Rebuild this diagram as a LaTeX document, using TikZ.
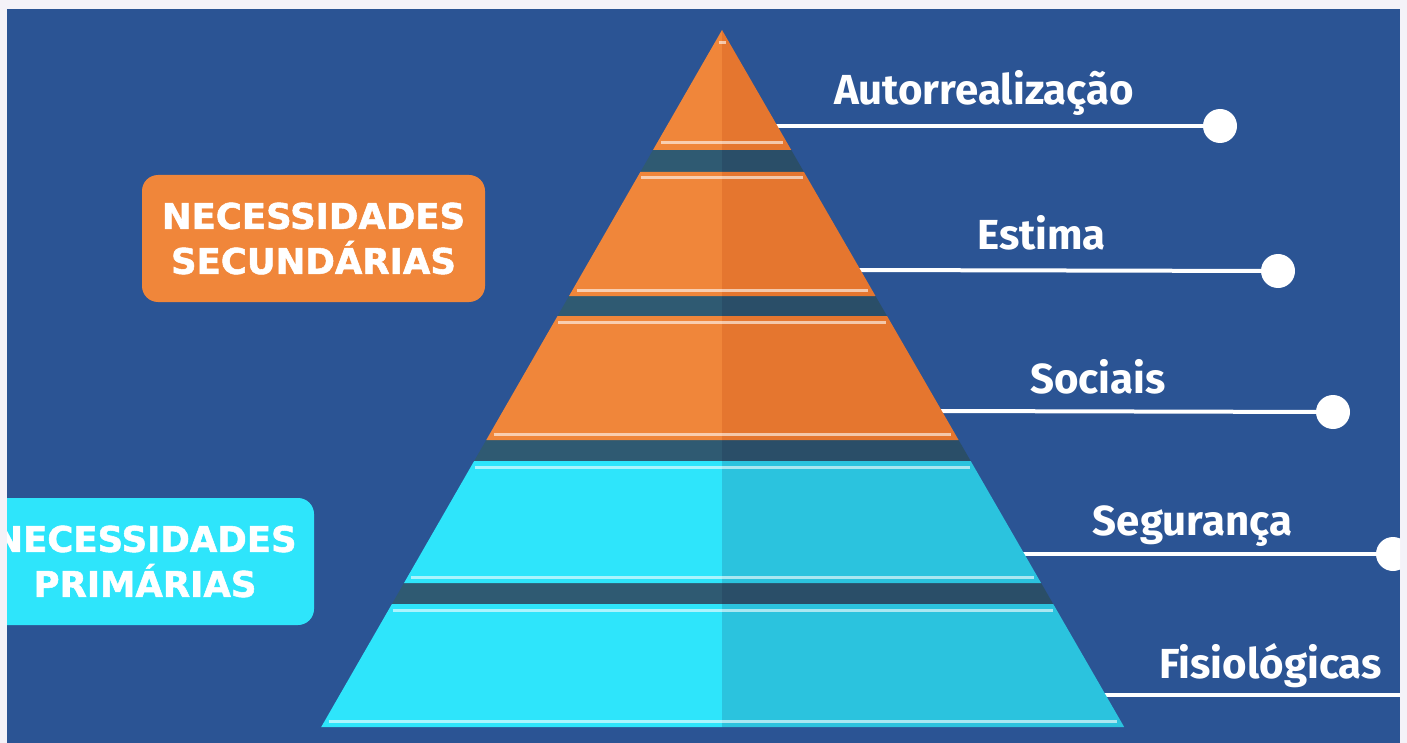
\documentclass[tikz,border=0pt]{standalone}
\usepackage{fontspec}
\setmainfont{Fira Sans}
\newfontfamily\tagfont{DejaVu Sans}[BoldFeatures={FakeBold=1.5}]
\definecolor{page}{HTML}{F4F2F8}
\definecolor{panel}{HTML}{2B5494}
\definecolor{orL}{HTML}{F0863A}
\definecolor{orR}{HTML}{E5762F}
\definecolor{cyL}{HTML}{2EE5FB}
\definecolor{cyR}{HTML}{2BC3DE}
\definecolor{shL}{HTML}{2F5A72}
\definecolor{shR}{HTML}{2A4E68}
% one slice of the pyramid: top, bottom, left colour, right colour
\newcommand{\slab}[4]{%
  \pgfmathsetmacro{\xa}{722-0.575*(#1-30)}
  \pgfmathsetmacro{\xb}{722-0.575*(#2-30)}
  \pgfmathsetmacro{\xc}{722+0.577*(#1-30)}
  \pgfmathsetmacro{\xd}{722+0.577*(#2-30)}
  \fill[#3] (\xa,#1) -- (722,#1) -- (722,#2) -- (\xb,#2) -- cycle;
  \fill[#4] (722,#1) -- (\xc,#1) -- (\xd,#2) -- (722,#2) -- cycle;}
% light stripe across the pyramid at height #1
\newcommand{\shine}[1]{%
  \pgfmathsetmacro{\xa}{722-0.575*(#1-30)+4}
  \pgfmathsetmacro{\xc}{722+0.577*(#1-30)-4}
  \draw[stripe] (\xa,#1) -- (\xc,#1);}
\begin{document}
\begin{tikzpicture}
[x=1pt,y=-1pt,
 stripe/.style={white,opacity=0.6,line width=3pt},
 wire/.style={white,line width=4pt},
 dot/.style={circle,fill=white,inner sep=0pt,minimum size=34pt},
 level/.style={white,anchor=base,font=\fontsize{42}{42}\selectfont\bfseries},
 tag/.style={rounded corners=16pt,text=white,align=center,inner sep=0pt,
   font=\tagfont\fontsize{35.5}{45}\selectfont\bfseries},]
\fill[page] (0,0) rectangle (1407,743);
\fill[panel] (7,9) rectangle (1400,743);
\begin{scope}
\clip (7,9) rectangle (1400,743);

\node (sec) at (313.5,238.5)[tag,fill=orL,minimum width=343pt,minimum height=127pt]
  {NECESSIDADES\\SECUNDÁRIAS};
\node (pri) at (145,561.5)[tag,fill=cyL,minimum width=338pt,minimum height=127pt]
  {NECESSIDADES\\PRIMÁRIAS};

\coordinate (e1) at (772,126);
\coordinate (e2) at (855,270);
\coordinate (e3) at (937,411);
\coordinate (e4) at (1019,554);
\coordinate (e5) at (1101,695);
\coordinate (f5) at (1400,695);
\node (d1) at (1220,126)[dot] {};
\node (d2) at (1278,271)[dot] {};
\node (d3) at (1333,412)[dot] {};
\node (d4) at (1393,554)[dot] {};
\draw[wire] (e1)--(d1);
\draw[wire] (e2)--(d2);
\draw[wire] (e3)--(d3);
\draw[wire] (e4)--(d4);
\draw[wire] (e5)--(f5);

\slab{150}{172}{shL}{shR}
\slab{296}{316}{shL}{shR}
\slab{440}{461}{shL}{shR}
\slab{583}{604}{shL}{shR}
\slab{30}{150}{orL}{orR}
\slab{172}{296}{orL}{orR}
\slab{316}{440}{orL}{orR}
\slab{461}{583}{cyL}{cyR}
\slab{604}{727}{cyL}{cyR}
\shine{43}\shine{143}
\shine{178}\shine{290}
\shine{322}\shine{434}
\shine{467}\shine{577}
\shine{610}\shine{721}

\node (auto) at (984,105)[level] {Autorrealização};
\node (est) at (1041.5,250)[level] {Estima};
\node (soc) at (1098,393)[level] {Sociais};
\node (seg) at (1192.5,535)[level] {Segurança};
\node (fis) at (1270.5,678)[level] {Fisiológicas};
\end{scope}

\end{tikzpicture}
\end{document}
